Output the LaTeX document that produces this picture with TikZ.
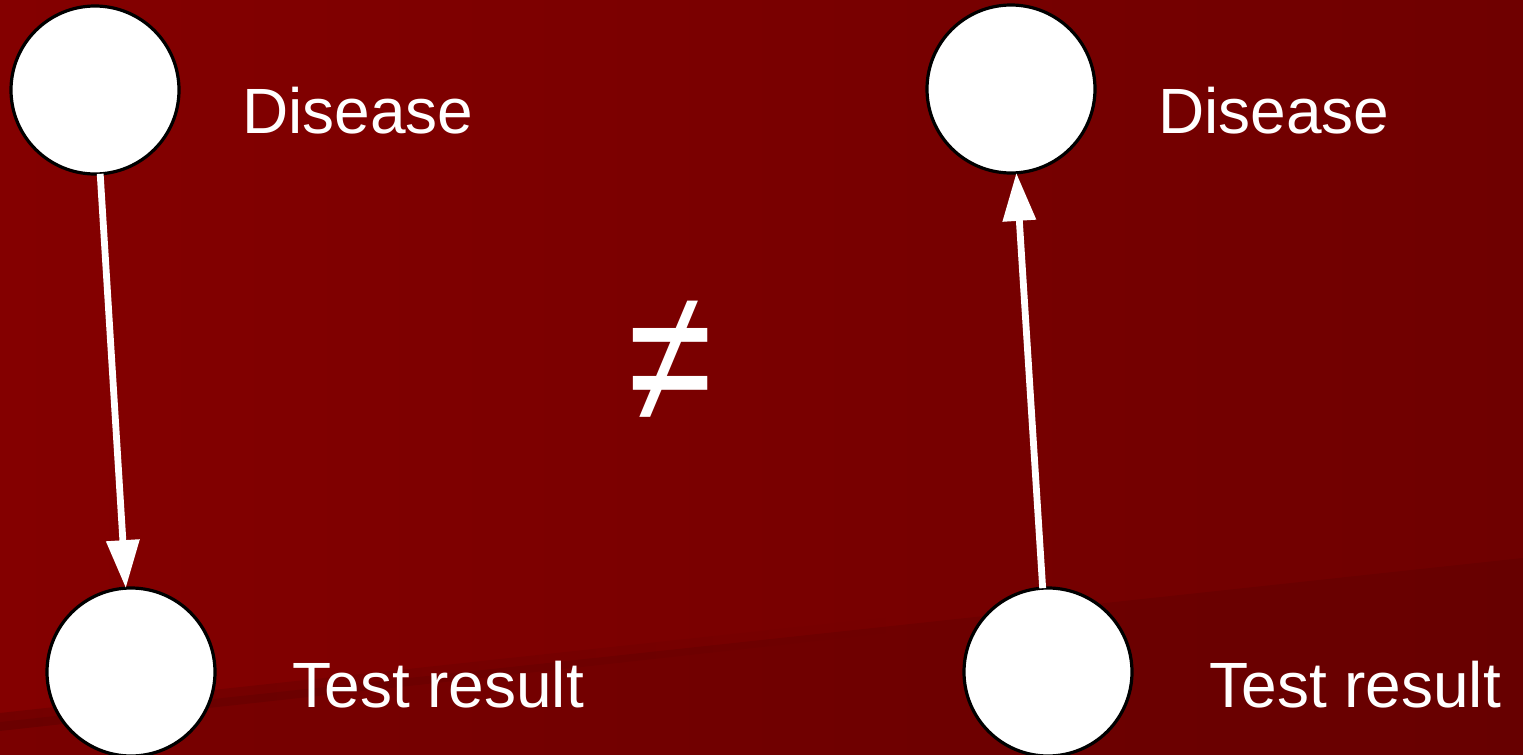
\documentclass[tikz,border=0pt]{standalone}
\usepackage{fontspec}
\setmainfont{Liberation Sans}
\usetikzlibrary{arrows.meta, fadings}
\definecolor{slideleft}{HTML}{840000}
\definecolor{slideright}{HTML}{6F0000}
\tikzset{
	var/.style={circle, draw=black, line width=1.6pt, fill=white, minimum size=84pt, inner sep=0pt, outer sep=0pt},
	lbl/.style={anchor=base west, text=white, font=\fontsize{32}{38}\selectfont, inner sep=0pt},
	arc/.style={draw=white, line width=3.4pt, -{Triangle[length=24pt, width=16pt]}},
}
\begin{document}
\begin{tikzpicture}[x=0.5pt, y=-0.5pt]
	\useasboundingbox (0,0) rectangle (1523,755);
	\begin{scope}
		\clip (0,0) rectangle (1523,755);
		\fill[left color=slideleft, right color=slideright] (0,0) rectangle (1523,755);
		\fill[black, opacity=0.07] (0,722) -- (1523,558) -- (1523,755) -- (0,755) -- cycle;
		\fill[black, opacity=0.12, path fading=east] (0,713) -- (900,616) -- (900,632) -- (0,731) -- cycle;
	\end{scope}
	\node[var] (disA) at (95,90) {};
	\node[var] (testA) at (131,672) {};
	\node[var] (disB) at (1011,89) {};
	\node[var] (testB) at (1048,672) {};
	\node[lbl] (disAlbl) at (242,133) {Disease};
	\node[lbl] (testAlbl) at (292,707) {Test result};
	\node[lbl] (disBlbl) at (1158,133) {Disease};
	\node[lbl] (testBlbl) at (1209,707) {Test result};
	\node[text=white, font=\fontsize{88}{96}\selectfont, inner sep=0pt] (neq) at (671,362) {\scalebox{0.87}[1.09]{≠}};
	\draw[arc] (disA) -- (testA);
	\draw[arc] (testB) -- (disB);
\end{tikzpicture}
\end{document}
